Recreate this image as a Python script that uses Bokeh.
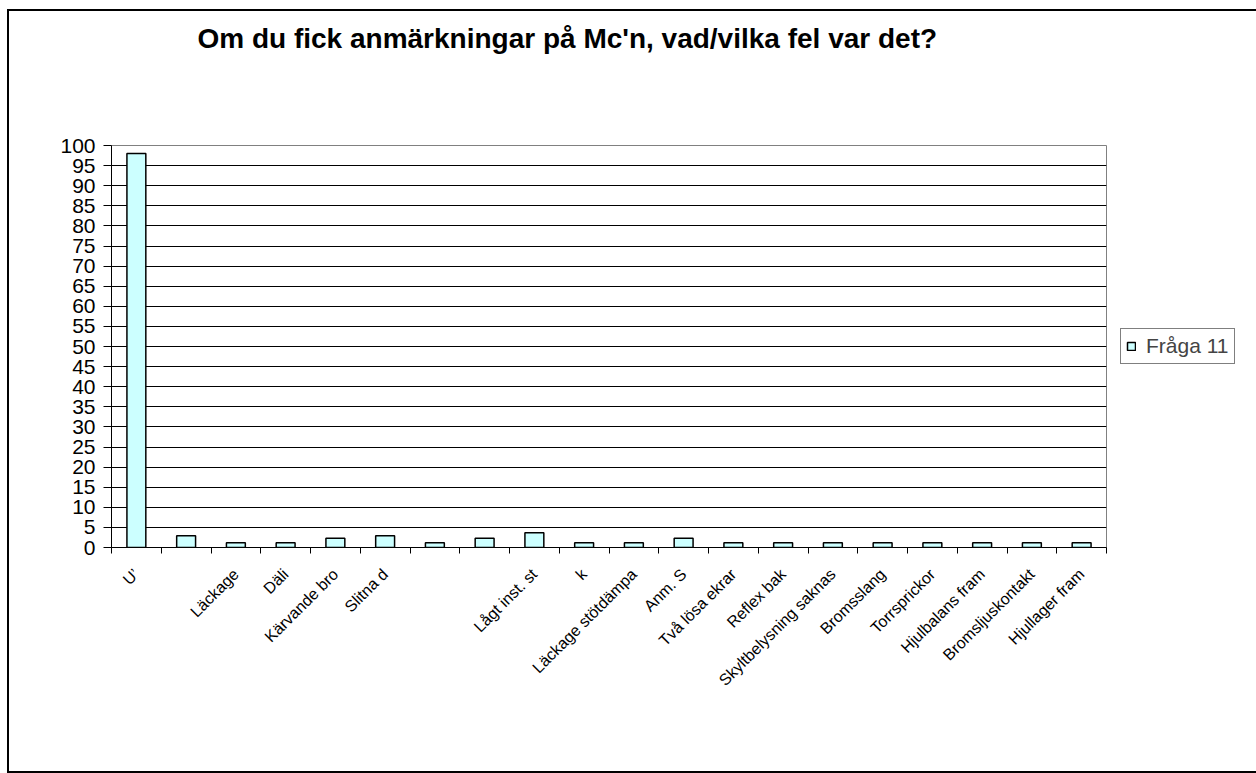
import math
from bokeh.plotting import figure
from bokeh.models import FixedTicker, Legend, LegendItem, ColumnDataSource, Range1d, Title
from bokeh.embed import file_html
from bokeh.resources import INLINE

title_text = "Om du fick anmärkningar på Mc'n, vad/vilka fel var det?"
series_name = "Fråga 11"

# category tick labels as visible in the reference (several are clipped or hidden)
tick_labels = ["U\u2019", "", "Läckage", "Däli", "Kärvande bro", "Slitna d", "", "",
               "Lågt inst. st", "k", "Läckage stötdämpa", "Anm. S", "Två lösa ekrar",
               "Reflex bak", "Skyltbelysning saknas", "Bromsslang", "Torrsprickor",
               "Hjulbalans fram", "Bromsljuskontakt", "Hjullager fram"]
values = [98, 2.9, 1.2, 1.2, 2.3, 2.9, 1.2, 2.3, 3.7, 1.2,
          1.2, 2.3, 1.2, 1.2, 1.2, 1.2, 1.2, 1.2, 1.2, 1.2]
y_ticks = list(range(0, 101, 5))

xs = list(range(1, len(values) + 1))
src = ColumnDataSource(dict(x=xs, top=values))

p = figure(frame_width=995, frame_height=402, output_backend="svg", toolbar_location=None,
           x_range=Range1d(0.5, len(values) + 0.5), y_range=Range1d(0, 100),
           min_border_left=102, min_border_right=120, min_border_top=120,
           min_border_bottom=224, background_fill_color="white",
           border_fill_color="white")
p.styles = {"border": "2px solid black", "margin-left": "7px", "margin-top": "9px"}

r = p.vbar(x="x", top="top", width=0.38, source=src, fill_color="#CCFFFF",
           line_color="black", line_width=1.5)

# spacer between title and plot area
p.add_layout(Title(text=" ", text_font_size="20px", standoff=55), "above")

p.title.text = title_text
p.title.text_font = "Liberation Sans"
p.title.text_font_size = "28px"
p.title.text_font_style = "bold"
p.title.text_color = "black"
p.title.align = "left"
p.title.offset = 86
p.title.vertical_align = "top"
p.title.standoff = 22

p.outline_line_color = "#808080"
p.xgrid.visible = False
p.ygrid.ticker = FixedTicker(ticks=y_ticks)
p.ygrid.grid_line_color = "black"
p.ygrid.grid_line_width = 1

p.yaxis.ticker = FixedTicker(ticks=y_ticks)
p.yaxis.axis_line_color = "black"
p.yaxis.major_tick_out = 8
p.yaxis.major_tick_in = 0
p.yaxis.minor_tick_line_color = None
p.yaxis.major_label_text_font = "Liberation Sans"
p.yaxis.major_label_text_font_size = "21px"
p.yaxis.major_label_text_color = "black"
p.yaxis.major_label_standoff = 8

p.xaxis.ticker = FixedTicker(ticks=xs, minor_ticks=[i + 0.5 for i in range(0, len(values) + 1)])
p.xaxis.major_label_overrides = {x: lbl for x, lbl in zip(xs, tick_labels)}
p.xaxis.major_tick_out = 0
p.xaxis.major_tick_in = 0
p.xaxis.minor_tick_out = 6
p.xaxis.minor_tick_in = 0
p.xaxis.minor_tick_line_color = "black"
p.xaxis.axis_line_color = "black"
p.xaxis.major_label_orientation = math.pi / 4
p.xaxis.major_label_text_font = "Liberation Sans"
p.xaxis.major_label_text_font_size = "16px"
p.xaxis.major_label_text_color = "black"
p.xaxis.major_label_standoff = 18

legend = Legend(items=[LegendItem(label=series_name, renderers=[r])],
                location="center_left", margin=14, padding=5,
                glyph_width=10, glyph_height=10, label_standoff=10,
                border_line_color="black", border_line_width=1,
                label_text_font="Liberation Sans", label_text_font_size="21px")
p.add_layout(legend, "right")

open("out.html", "w").write(file_html(p, INLINE))
